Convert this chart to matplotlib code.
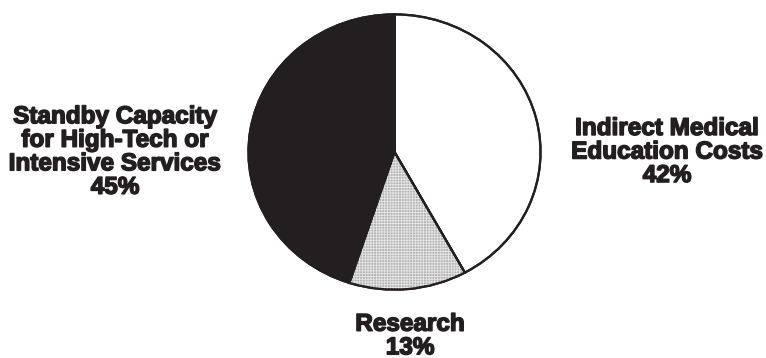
import matplotlib.pyplot as plt
import matplotlib.patheffects as pe
from matplotlib.patches import PathPatch

# slice data, clockwise from 12 o'clock
labels = ['Indirect Medical\nEducation Costs', 'Research', 'Standby Capacity\nfor High-Tech or\nIntensive Services']
shares = [42, 13, 45]
fills = ['white', '#b4b4b4', '#231f20']

# where each label sits (figure pixels, from top-left)
label_xy = [(667, 152), (410, 336), (115, 152)]

plt.rcParams['hatch.linewidth'] = 0.6

W, H = 766, 358
fig = plt.figure(figsize=(W / 100, H / 100), dpi=100)
# pie is a bit wider than tall in the original
ax = fig.add_axes([247 / W, (H - 291) / H, 295 / W, 278 / H])

wedges, _ = ax.pie(shares, colors=fills, startangle=90, counterclock=False,
                   wedgeprops=dict(edgecolor='#231f20', linewidth=1.6))
ax.set_aspect('auto')
ax.set_xlim(-1.01, 1.01)
ax.set_ylim(-1.01, 1.01)

# fine screen texture on the research slice
w = wedges[1]
ax.add_patch(PathPatch(w.get_path(), facecolor='none', edgecolor='#e6e6e6',
                       linewidth=0, hatch='++++++', transform=w.get_transform(),
                       zorder=1.5))
for wd in wedges:
    wd.set_zorder(1)
# outlines again above the texture
for wd in wedges:
    ax.add_patch(PathPatch(wd.get_path(), facecolor='none', edgecolor='#231f20',
                           linewidth=1.6, transform=wd.get_transform(), zorder=2))

for lab, pct, (x, y) in zip(labels, shares, label_xy):
    fig.text(x / W, 1 - y / H, f'{lab}\n{pct}%', ha='center', va='center',
             multialignment='center', fontsize=17.5, fontweight='bold',
             family=['Liberation Sans', 'DejaVu Sans'], color='#231f20', linespacing=1.03,
             path_effects=[pe.withStroke(linewidth=1.1, foreground='#231f20')])

fig.savefig('out.png', dpi=100, facecolor='white')
